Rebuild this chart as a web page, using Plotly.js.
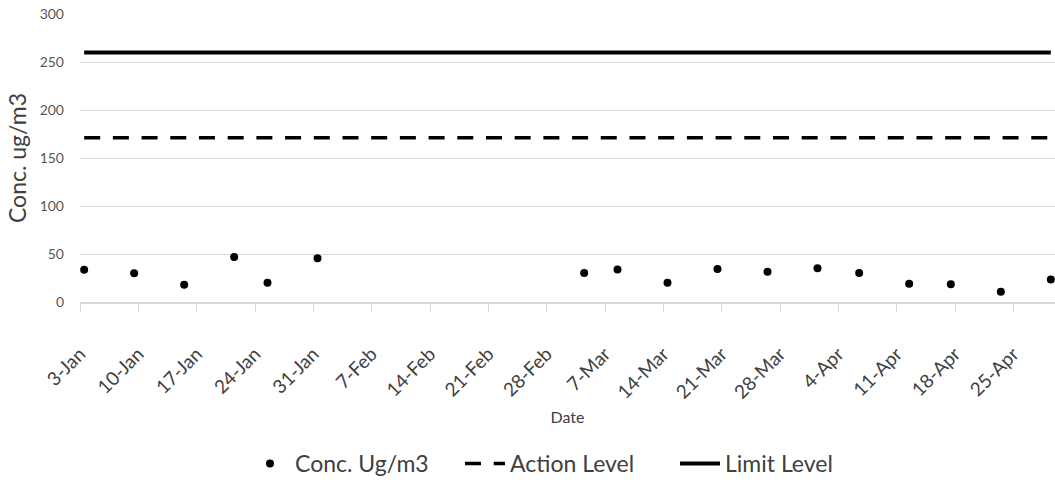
<!DOCTYPE html>
<html>
<head>
<meta charset="utf-8">
<script src="https://cdn.plot.ly/plotly-3.0.1.min.js"></script>
<style>html,body{margin:0;padding:0;background:#fff;}#chart{width:1055px;height:485px;}</style>
</head>
<body>
<div id="chart"></div>
<script>
// Sampling dates (non-leap year) and measured concentrations
const sampleDates = ["2019-01-03","2019-01-09","2019-01-15","2019-01-21","2019-01-25","2019-01-31",
  "2019-03-04","2019-03-08","2019-03-14","2019-03-20","2019-03-26",
  "2019-04-01","2019-04-06","2019-04-12","2019-04-17","2019-04-23","2019-04-29"];
const concValues = [33.5,30.0,18.0,46.8,20.0,45.7,
  30.3,33.8,20.0,34.5,31.4,
  35.1,30.3,19.0,18.6,10.7,23.4];
const actionLevel = 171;
const limitLevel = 260;
const axisStart = "2019-01-03";
const axisEnd = "2019-04-30";

// Excel date axis places each day's point in the middle of its day slot
const centred = d => d + " 12:00";
const xs = sampleDates.map(centred);
const lineX = [xs[0], xs[xs.length - 1]];

const FONT = "Lato, 'Liberation Sans', sans-serif";
const traces = [
  {x: xs, y: concValues, name: "Conc. Ug/m3", type: "scatter", mode: "markers",
   marker: {color: "#000000", size: 8}},
  {x: lineX, y: [actionLevel, actionLevel], name: "Action Level", type: "scatter", mode: "lines",
   line: {color: "#000000", width: 3.5, dash: "16px,12.7px"}},
  {x: lineX, y: [limitLevel, limitLevel], name: "Limit Level", type: "scatter", mode: "lines",
   line: {color: "#000000", width: 4}}
];

const layout = {
  width: 1055, height: 485,
  margin: {l: 80, r: 0, t: 14, b: 182},
  paper_bgcolor: "#ffffff", plot_bgcolor: "#ffffff",
  font: {family: FONT, color: "#595959"},
  showlegend: true,
  legend: {orientation: "h", x: 0.5, xanchor: "center", y: -0.563, yanchor: "middle",
    font: {size: 23, color: "#404040"}, itemwidth: 40, entrywidth: 160, entrywidthmode: "pixels",
    traceorder: "normal"},
  xaxis: {
    type: "date", range: [axisStart, axisEnd],
    tick0: axisStart, dtick: 7 * 86400000, tickformat: "%-d-%b",
    tickangle: -45, tickfont: {size: 19, color: "#404040"},
    ticks: "outside", ticklen: 8, tickcolor: "#d9d9d9", ticklabelstandoff: 24,
    showline: true, linecolor: "#d9d9d9", linewidth: 1.5,
    showgrid: false, zeroline: false,
    title: {text: "Date", font: {size: 16, color: "#404040"}, standoff: 10}
  },
  yaxis: {
    range: [0, 300], dtick: 50, tickfont: {size: 14, color: "#595959"},
    showgrid: true, gridcolor: "#d9d9d9", gridwidth: 1, zeroline: false,
    ticks: "", ticklabelstandoff: 15,
    title: {text: "Conc. ug/m3", font: {size: 23, color: "#404040"}, standoff: 6}
  }
};

Plotly.newPlot("chart", traces, layout, {displayModeBar: false, staticPlot: true});
</script>
</body>
</html>
